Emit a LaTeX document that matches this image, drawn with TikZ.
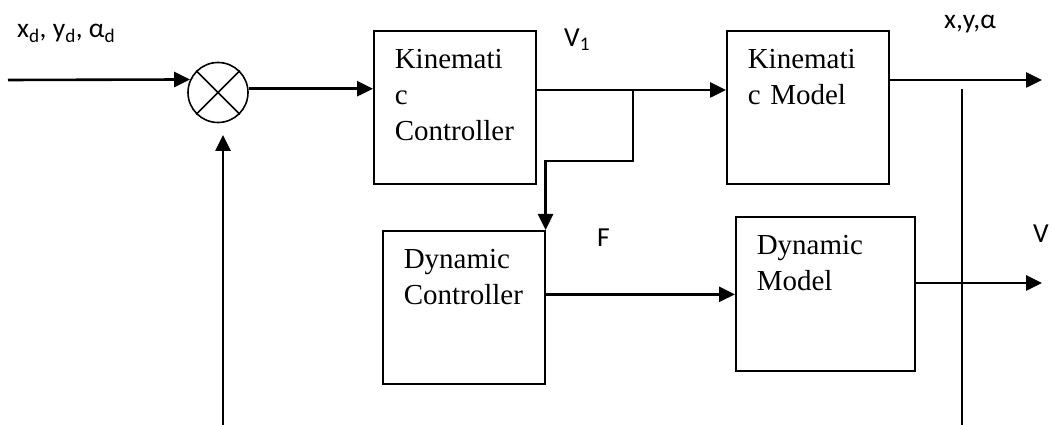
\documentclass[tikz,border=0pt]{standalone}
\usepackage{fontspec}
\setmainfont{Liberation Serif}
\newfontfamily\labelfont{Carlito}
\usetikzlibrary{arrows.meta,positioning}
\begin{document}
\begin{tikzpicture}[x=1pt,y=1pt,>={Triangle[length=16pt,width=15pt]},
  block/.style={draw,line width=1.6pt,anchor=north west,inner xsep=21pt,inner ysep=0pt,
    align=left,text width=120pt,text height=38pt,text depth=115pt,font=\fontsize{29}{36}\selectfont},
  signal/.style={->,line width=2.6pt},
  tag/.style={anchor=base west,inner sep=0pt,font=\labelfont\fontsize{27.5}{32}\selectfont}]
  \useasboundingbox (0,0) rectangle (1052,425);
  \node[draw,circle,line width=1.6pt,minimum size=60pt,inner sep=0pt] (sum) at (218,332.5) {};
  \draw[line width=1.6pt] (sum.45) -- (sum.225) (sum.135) -- (sum.315);
  \node[block] (kc) at (373,395) {Kinemati\\c\\Controller};
  \node[block] (km) at (726,395) {Kinemati\\c Model};
  \node[block] (dc) at (382,195) {Dynamic\\Controller};
  \node[block,text width=137pt,text depth=116pt] (dm) at (735,209) {Dynamic\\Model};
  \coordinate (ref) at (8,345);
  \coordinate (fb) at (223,0);
  \coordinate (fbtip) at (223,290);
  \coordinate (split) at (633,335);
  \coordinate (xout) at (1042,345);
  \coordinate (vout) at (1042,142);
  \coordinate (tap) at (962,336);
  \coordinate (tapend) at (962,0);
  \draw[signal] (ref) -- (sum.155);
  \draw[signal] (fb) -- (fbtip);
  \draw[signal] (sum.7) -- (sum.7 -| kc.west);
  \draw[signal] (kc.east |- split) -- (split -| km.west);
  \draw[signal] (split) |- ([yshift=69pt]dc.north east) -- (dc.north east);
  \draw[signal] (dc.9.5) -- (dc.9.5 -| dm.west);
  \draw[signal] (km.east |- xout) -- (xout);
  \draw[signal] (dm.east |- vout) -- (vout);
  \draw[line width=2pt] (tap) -- (tapend);
  \node[tag] (xdlbl) at (17,387) {x\textsubscript{d}, y\textsubscript{d}, α\textsubscript{d}};
  \node[tag] (vlbl) at (564,378) {V\textsubscript{1}};
  \node[tag] (flbl) at (597,178) {F};
  \node[tag] (xlbl) at (944,396) {x,y,α};
  \node[tag] (vlbl2) at (1033,182) {V};
\end{tikzpicture}
\end{document}
